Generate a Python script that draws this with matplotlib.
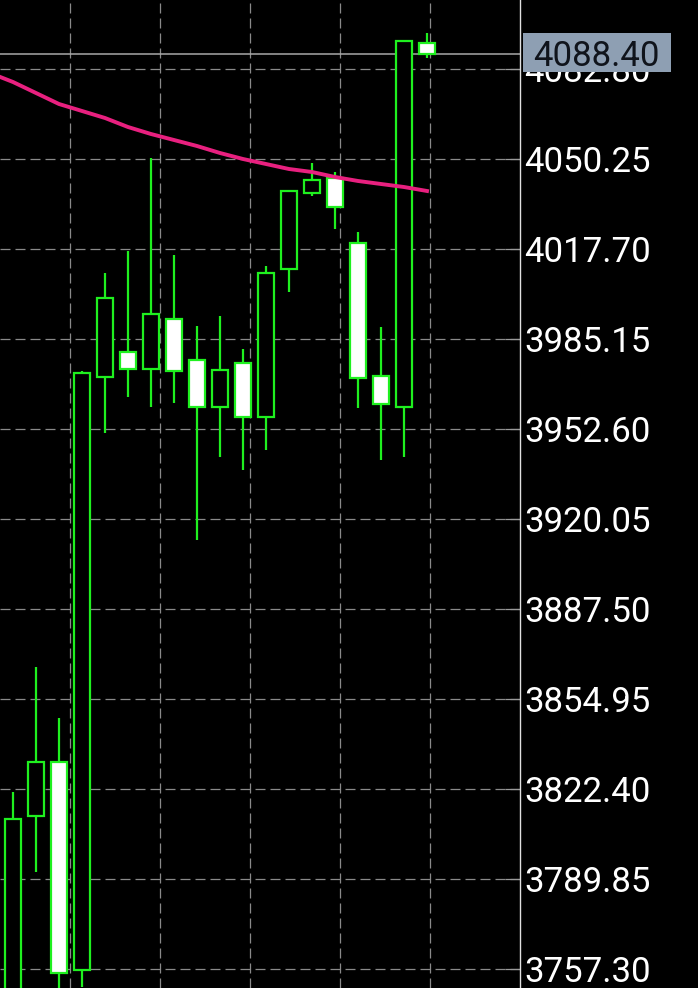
import numpy as np
import matplotlib as mpl
mpl.use('Agg')
import matplotlib.pyplot as plt
from matplotlib.patches import Rectangle

# candles, oldest first (index 0 is partly off the left edge)
opens = [3742.50, 3812.64, 3832.17, 3756.94, 3971.41, 3980.45, 3974.30, 3992.38,
         3977.55, 3960.56, 3976.47, 3956.94, 4010.47, 4037.95, 4043.38, 4019.87,
         3971.77, 3960.56, 4092.20]
highs = [3821.32, 3866.52, 3848.08, 3973.57, 4009.02, 4016.98, 4050.61, 4015.53,
         3989.85, 3993.47, 3981.53, 4011.55, 4039.04, 4048.80, 4045.55, 4023.85,
         3989.49, 4092.93, 4095.82]
lows = [3735.20, 3792.38, 3746.09, 3750.79, 3951.15, 3964.17, 3960.56, 3962.00,
        3912.46, 3942.47, 3937.77, 3945.01, 4002.15, 4036.87, 4024.93, 3960.19,
        3941.39, 3942.47, 4086.78]
closes = [3811.55, 3832.17, 3755.85, 3972.85, 3999.98, 3974.30, 3994.19, 3973.58,
          3960.56, 3973.94, 3956.94, 4009.02, 4038.68, 4042.65, 4032.89, 3971.04,
          3961.64, 4092.93, 4088.40]
# moving average, starting one bar before the first candle
ma = [4081.35, 4078.10, 4074.12, 4070.14, 4067.61, 4065.08, 4061.82, 4059.29,
      4057.12, 4054.95, 4052.42, 4050.25, 4048.44, 4046.63, 4045.55, 4043.74,
      4042.30, 4041.21, 4040.12, 4038.68]
bid = 4088.40
price_ticks = [3757.30 + 32.55 * k for k in range(11)]

green = '#1ff01f'
W, H = 698, 988
fig = plt.figure(figsize=(W / 100, H / 100), dpi=100, facecolor='black')
ax = fig.add_axes([0, 0, 520 / W, 1], facecolor='black')

# price scale: 32.55 per 90 px, 3757.30 at pixel row 969
ppx = 32.55 / 90
ax.set_ylim(3757.30 - (H - 969) * ppx, 3757.30 + 969 * ppx)
ax.set_xlim(-13 / 23, (520 - 13) / 23)

x = np.arange(len(opens))
ax.vlines(x, lows, highs, color=green, lw=1.6, zorder=2)
bw = 0.68
for i in range(len(opens)):
    o, c = opens[i], closes[i]
    fc = 'black' if c > o else 'white'
    ax.add_patch(Rectangle((i - bw / 2, min(o, c)), bw, abs(c - o),
                           facecolor=fc, edgecolor=green, lw=1.6, zorder=3))

ax.plot(np.arange(-1, len(ma) - 1), ma, color='#e8207f', lw=2.8, zorder=4)

# grid
for gx in np.arange(57 / 23, 22, 90 / 23):
    ax.axvline(gx, color='#8a8a8a', lw=0.9, dashes=(8, 4), zorder=1)
for p in price_ticks:
    ax.axhline(p, color='#8a8a8a', lw=0.9, dashes=(8, 4), zorder=1)
ax.axhline(bid, color='#a8a8a8', lw=1.1, zorder=1)

for s in ['left', 'top', 'bottom']:
    ax.spines[s].set_visible(False)
ax.spines['right'].set_color('#e0e0e0')
ax.spines['right'].set_linewidth(1)
ax.set_xticks([])
ax.yaxis.tick_right()
ax.set_yticks(price_ticks)
ax.set_yticklabels(['%.2f' % p for p in price_ticks])
ax.tick_params(axis='y', direction='in', length=11, width=0.9, color='#9a9a9a',
               pad=3, labelsize=25, labelcolor='white')
for lbl in ax.get_yticklabels():
    lbl.set_fontfamily('Roboto')

# bid price box on the scale, drawn over the tick label beneath it
fig.patches.append(Rectangle((523 / W, 1 - 72 / H), 148 / W, 39 / H,
                             transform=fig.transFigure, facecolor='#8e9fb3',
                             edgecolor='none', zorder=5))
fig.text(533 / W, 1 - 52.5 / H, '%.2f' % bid, va='center_baseline', ha='left',
         fontsize=25, family='Roboto', color='#10141c', zorder=6)

fig.savefig('out.png', dpi=100, facecolor='black')
